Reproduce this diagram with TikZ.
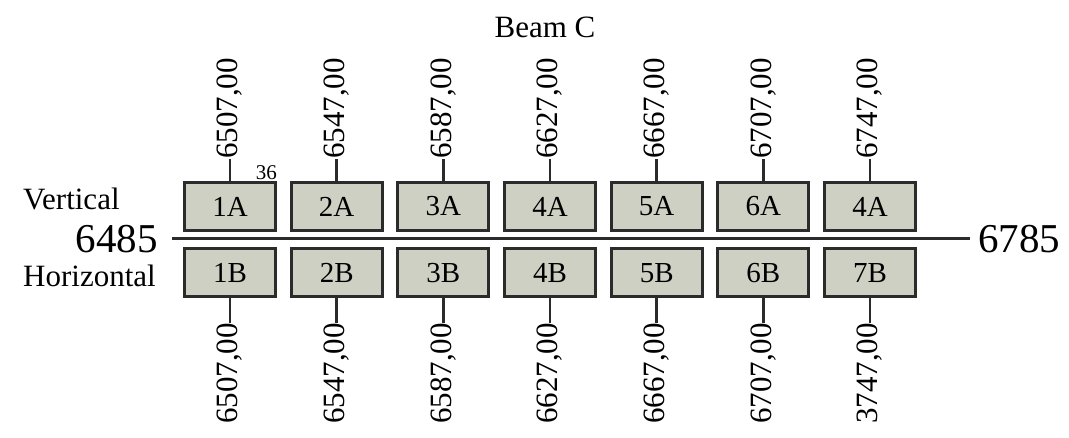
\documentclass[tikz,border=0pt]{standalone}
\usepackage{fontspec}
\setmainfont{Liberation Serif}
\usetikzlibrary{
    positioning
}

\definecolor{boxfill}{HTML}{CED0C4}
\definecolor{boxline}{HTML}{2B2B2B}

\tikzset{
    beambox/.style={draw=boxline, fill=boxfill, line width=3pt,
        minimum width=91pt, minimum height=48pt, inner sep=0pt,
        font=\fontsize{29}{29}\selectfont},
    tag/.style={rotate=90, inner sep=0pt, font=\fontsize{31}{31}\selectfont},
    side/.style={inner sep=0pt, font=\fontsize{31}{31}\selectfont},
    wire/.style={boxline, line width=2.5pt}
}

\begin{document}
\begin{tikzpicture}[x=1pt, y=1pt]
    \useasboundingbox (0,0) rectangle (1069,-438);

    \node[side, anchor=base] (title) at (545,-38) {Beam C};
    \node[side, anchor=base west] (vert) at (23,-210) {Vertical};
    \node[side, anchor=base west] (horiz) at (23,-287) {Horizontal};

    % main line
    \node[anchor=east, inner ysep=0pt, inner xsep=14pt,
          font=\fontsize{41}{41}\selectfont] (left) at (172,-239) {6485};
    \node[anchor=west, inner ysep=0pt, inner xsep=8pt,
          font=\fontsize{41}{41}\selectfont] (right) at (970,-239) {6785};
    \draw[wire, line width=3pt] (left) -- (right);

    % boxes with their values
    \foreach \i/\top/\bot/\vtop/\vbot in {
        1/1A/1B/{6507,00}/{6507,00},
        2/2A/2B/{6547,00}/{6547,00},
        3/3A/3B/{6587,00}/{6587,00},
        4/4A/4B/{6627,00}/{6627,00},
        5/5A/5B/{6667,00}/{6667,00},
        6/6A/6B/{6707,00}/{6707,00},
        7/4A/7B/{6747,00}/{3747,00}} {
        \pgfmathsetmacro{\cx}{230+106.67*(\i-1)}
        \node[beambox] (up\i) at (\cx,-206.5) {\top};
        \node[beambox] (dn\i) at (\cx,-273) {\bot};
        \node[tag, anchor=west] (uptag\i) at (\cx,-159) {\vtop};
        \node[tag, anchor=east] (dntag\i) at (\cx,-323) {\vbot};
        \draw[wire] (up\i) -- (uptag\i);
        \draw[wire] (dn\i) -- (dntag\i);
    }

    \node[anchor=base east, inner sep=0pt,
          font=\fontsize{21}{21}\selectfont] (gap) at (277,-180) {36};
\end{tikzpicture}
\end{document}
